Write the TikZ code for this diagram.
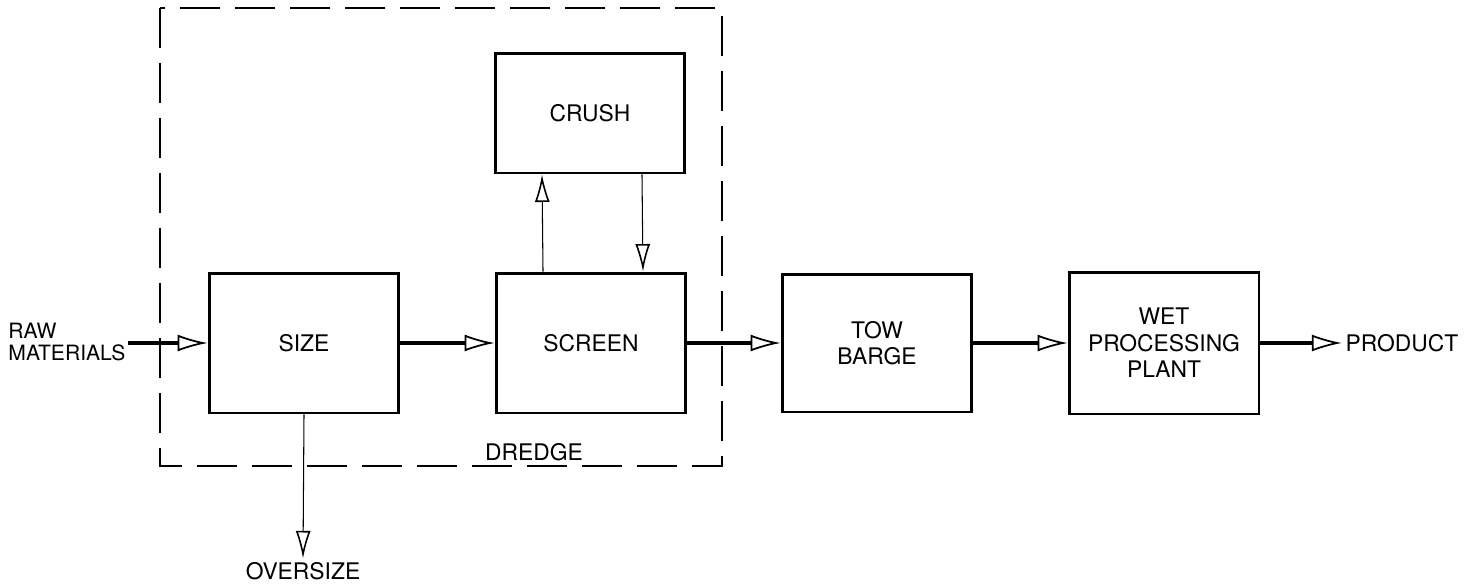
\documentclass[tikz,border=0pt]{standalone}
\usepackage{fontspec}
\setmainfont{TeX Gyre Heros}
\usetikzlibrary{arrows.meta}
\usetikzlibrary{positioning}

\begin{document}
\begin{tikzpicture}[x=0.02cm, y=-0.02cm,
    every node/.style={font=\fontsize{13}{15}\selectfont, align=center},
    unit/.style={draw, line width=1.7pt, minimum width=3.8cm, minimum height=2.8cm},
    feed/.style={line width=2.2pt, -{Latex[open, length=0.6cm, width=0.34cm, line width=1pt]}},
    loop/.style={line width=0.6pt, -{Latex[open, length=0.55cm, width=0.3cm, line width=0.9pt]}}]
        % Fix the page to the size of the reference
        \useasboundingbox (0,0) rectangle (1464,583);

        % Dredge boundary
        \draw[line width=1.1pt, dash pattern=on 0.8cm off 0.3cm] (160,8) rectangle (722,466);
        \node (dredge) at (534,452) {DREDGE};

        % Process units
        \node[unit] (size) at (304,343) {SIZE};
        \node[unit] (screen) at (591,343) {SCREEN};
        \node[unit, minimum height=2.4cm] (crush) at (590,113) {CRUSH};
        \node[unit, minimum height=2.76cm] (barge) at (877,343) {TOW\\BARGE};
        \node[unit, minimum height=2.84cm] (wet) at (1164,343) {WET\\PROCESSING\\PLANT};

        % Feed and product labels
        \node[align=left, font=\fontsize{12}{13}\selectfont, inner sep=1pt] (raw) at (67,342) {RAW\\MATERIALS};
        \node[inner sep=2pt] (oversize) at (303,571) {OVERSIZE};
        \node[inner sep=2pt] (product) at (1402,343) {PRODUCT};

        % Main flow
        \draw[feed] (raw.east |- size.west) -- (size.west);
        \draw[feed] (size) -- (screen);
        \draw[feed] (screen) -- (barge);
        \draw[feed] (barge) -- (wet);
        \draw[feed] (wet) -- (product);

        % Crushing loop and oversize reject
        \draw[loop] ([xshift=-0.96cm]screen.north) -- ([xshift=-0.96cm]crush.south);
        \draw[loop] ([xshift=1.04cm]crush.south) -- ([xshift=1.04cm]screen.north);
        \draw[loop] (size.south) -- (oversize.north);
      \end{tikzpicture}
\end{document}
